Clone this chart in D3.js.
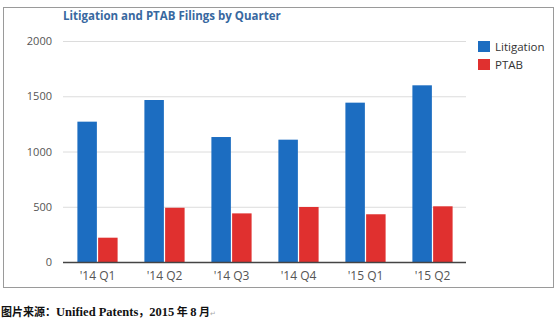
<!DOCTYPE html>
<html><head><meta charset="utf-8">
<script src="https://cdn.jsdelivr.net/npm/d3@7"></script>
<style>
html,body{margin:0;padding:0;background:#fff;}
svg{display:block;}
</style></head>
<body>
<svg id="chart" width="560" height="326"></svg>
<script>
const quarters = ["'14 Q1","'14 Q2","'14 Q3","'14 Q4","'15 Q1","'15 Q2"];
const seriesNames = ["Litigation","PTAB"];
const litigation = [1270, 1466, 1131, 1107, 1442, 1599];
const ptab = [220, 491, 440, 498, 432, 504];
const yTicks = [0, 500, 1000, 1500, 2000];
const colors = ["#1c6dc1", "#e0302f"];
const titleText = "Litigation and PTAB Filings by Quarter";
const captionParts = [
  {t:"图片来源：", cjk:true},
  {t:"Unified Patents", cjk:false},
  {t:"，", cjk:true},
  {t:"2015", cjk:false},
  {t:" 年 ", cjk:true},
  {t:"8", cjk:false},
  {t:" 月", cjk:true}
];

const svg = d3.select("#chart");
const m = {left: 63, right: 466, top: 41, bottom: 262};

// frame
svg.append("rect").attr("x",3.5).attr("y",7.5).attr("width",550).attr("height",280)
  .attr("fill","none").attr("stroke","#9a9a9a").attr("stroke-width",1);

const x0 = d3.scaleBand().domain(quarters).range([m.left+1, m.right]).paddingInner(0.4).paddingOuter(0.2);
const x1 = d3.scaleBand().domain(seriesNames).range([0, x0.bandwidth()]).paddingInner(0.06);
const y = d3.scaleLinear().domain([0,2000]).range([m.bottom, m.top]);

// grid
const yAxis = d3.axisLeft(y).tickValues(yTicks).tickSize(-(m.right-m.left)).tickPadding(11).tickFormat(d3.format("d"));
const gy = svg.append("g").attr("transform",`translate(${m.left},0)`).call(yAxis);
gy.select(".domain").remove();
gy.selectAll(".tick line").attr("stroke","#dcdcdc").attr("stroke-width",1);
gy.selectAll(".tick text").attr("fill","#555").style("font-family","'Open Sans', sans-serif").style("font-size","11px");

// bars
const data = quarters.map((q,i)=>({q, vals:[litigation[i], ptab[i]]}));
const groups = svg.append("g").selectAll("g").data(data).join("g")
  .attr("transform", d=>`translate(${x0(d.q)},0)`);
groups.selectAll("rect").data(d=>d.vals.map((v,j)=>({k:seriesNames[j], v, j})))
  .join("rect")
  .attr("x", d=>x1(d.k)).attr("width", x1.bandwidth())
  .attr("y", d=>y(d.v)).attr("height", d=>y(0)-y(d.v))
  .attr("fill", d=>colors[d.j]);

// x axis
const xAxis = d3.axisBottom(x0).tickSize(0).tickPadding(9);
const gx = svg.append("g").attr("transform",`translate(0,${m.bottom})`).call(xAxis);
gx.select(".domain").attr("d", `M${m.left},0.5H${m.right}`).attr("stroke","#444").attr("stroke-width",1.5);
gx.selectAll(".tick text").attr("fill","#555").style("font-family","'Open Sans', sans-serif").style("font-size","12px");

// title
svg.append("text").attr("x",63).attr("y",20).text(titleText)
  .attr("fill","#3868a0").style("font-family","'Open Sans', sans-serif").style("font-weight","bold").style("font-size","11.5px");

// legend
const lg = svg.append("g").selectAll("g").data(seriesNames).join("g")
  .attr("transform",(d,i)=>`translate(478,${41+i*18})`);
lg.append("rect").attr("width",12).attr("height",11).attr("fill",(d,i)=>colors[i]);
lg.append("text").attr("x",17).attr("y",5.5).attr("dy","0.35em").text(d=>d)
  .attr("fill","#333").style("font-family","'Open Sans', sans-serif").style("font-size","11.5px");

// caption
const cap = svg.append("text").attr("x",1).attr("y",316)
  .attr("fill","#111").style("font-weight","bold");
cap.selectAll("tspan").data(captionParts).join("tspan")
  .text(d=>d.t)
  .style("font-family", d=>d.cjk ? "'Noto Sans CJK SC', sans-serif" : "'Liberation Serif', 'DejaVu Serif', serif")
  .style("font-size", d=>d.cjk ? "11px" : "12.5px");
cap.append("tspan").text("↵").attr("fill","#aaa").style("font-weight","normal")
  .style("font-family","'DejaVu Sans', sans-serif").style("font-size","7px");
</script>
</body></html>
